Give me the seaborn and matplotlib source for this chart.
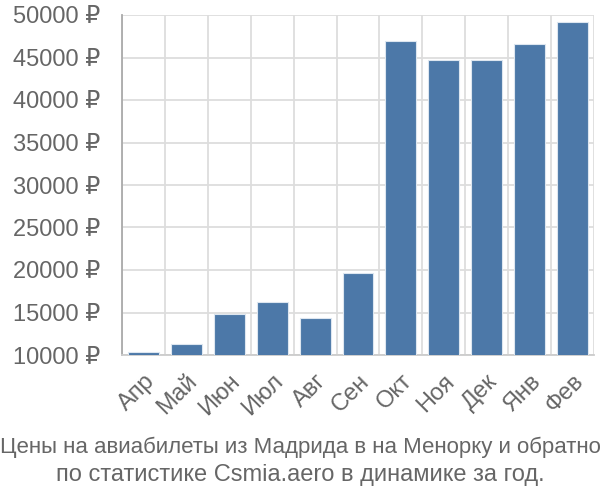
import matplotlib
matplotlib.use("Agg")
import matplotlib.pyplot as plt
import seaborn as sns
import pandas as pd
import numpy as np

months = ["Апр", "Май", "Июн", "Июл", "Авг", "Сен", "Окт", "Ноя", "Дек", "Янв", "Фев"]
prices = [10300, 11350, 14800, 16180, 14330, 19620, 46960, 44650, 44650, 46610, 49200]
y_ticks = [10000, 15000, 20000, 25000, 30000, 35000, 40000, 45000, 50000]
title_lines = ["Цены на авиабилеты из Мадрида в на Менорку и обратно",
               "по статистике Csmia.aero в динамике за год."]

sns.set_style("white")
plt.rcParams['font.family'] = ['Liberation Sans', 'DejaVu Sans']

df = pd.DataFrame({"month": months, "price": prices})

fig = plt.figure(figsize=(6, 5), dpi=100)
ax = fig.add_axes([0.2033, 0.29, 0.7867, 0.68])

sns.barplot(data=df, x="month", y="price", color="#4c78a8", saturation=1,
            width=0.72, edgecolor="#dde6f0", linewidth=0.8, ax=ax, zorder=3)

n = len(months)
ax.set_xlim(-0.5, n - 0.5)
ax.set_ylim(y_ticks[0], y_ticks[-1])

# gridlines at category edges, labels at centres
ax.set_xticks(np.arange(n + 1) - 0.5)
ax.set_xticklabels([])
ax.set_xticks(np.arange(n), minor=True)
ax.set_xticklabels(months, minor=True, rotation=45, ha="right", va="top",
                   rotation_mode="anchor", fontsize=17, color="#666666")
ax.tick_params(axis="x", which="major", length=14.5, width=1.3, color="#dddddd")
ax.tick_params(axis="x", which="minor", length=0, pad=11)
# the left spine continues down through the first edge tick
ax.xaxis.get_major_ticks()[0].tick1line.set_color("#aaaaaa")

ax.set_yticks(y_ticks)
ax.set_yticklabels([f"{v} ₽" for v in y_ticks], fontsize=17, color="#666666")
ax.tick_params(axis="y", length=14.5, width=1.3, color="#dddddd", pad=1)

ax.grid(True, which="major", color="#dddddd", linewidth=1.3, zorder=0)
ax.set_axisbelow(True)

for s in ["top", "right"]:
    ax.spines[s].set_visible(False)
ax.spines["left"].set_color("#aaaaaa")
ax.spines["left"].set_linewidth(1.3)
ax.spines["bottom"].set_color("#cccccc")
ax.spines["bottom"].set_linewidth(1.3)

ax.set_xlabel("")
ax.set_ylabel("")

# first line is squeezed to the figure width in the original
fig.text(0.5, 1 - 447 / 500, title_lines[0], ha="center", va="center",
         fontsize=16, color="#666666")
fig.text(0.5, 1 - 475 / 500, title_lines[1], ha="center", va="center",
         fontsize=17, color="#666666")

fig.savefig("out.png", dpi=100)
